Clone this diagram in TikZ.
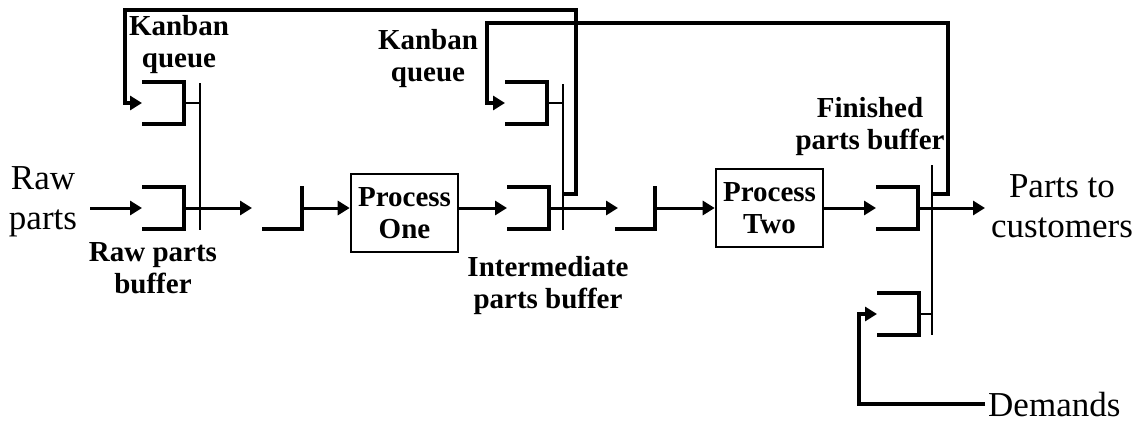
\documentclass[tikz,border=0pt]{standalone}
\usepackage{fontspec}
\setmainfont{Liberation Serif}
\usetikzlibrary{arrows.meta}

\tikzset{
  buffer/.pic={
    \draw[line width=4pt] (0,-21) -| (42,21) -- (0,21);
    \coordinate (-in) at (0,0);
    \coordinate (-out) at (42,0);
  },
  gate/.pic={
    \draw[line width=4pt] (-40,21) -| (0,-22);
    \coordinate (-out) at (0,0);
  },
}

\begin{document}
\begin{tikzpicture}[x=1pt, y=-1pt,
  flow/.style={line width=3pt, -{Triangle[length=12pt,width=14pt]}},
  loop/.style={line width=3.4pt, -{Triangle[length=12pt,width=14pt]}},
  post/.style={line width=2.4pt},
  lbl/.style={font=\bfseries\fontsize{29}{32}\selectfont, align=center, inner sep=0pt},
  txt/.style={font=\fontsize{35}{40}\selectfont, align=center, inner sep=0pt},
  proc/.style={draw, line width=2.6pt, minimum width=107pt, minimum height=78pt,
    inner sep=0pt, font=\bfseries\fontsize{29}{32}\selectfont, align=center}]
  \useasboundingbox (0,0) rectangle (1147,423);
  % Buffers and kanban queues.
  \pic (kq1) at (142,103) {buffer};
  \pic (rb)  at (142,208) {buffer};
  \pic (kq2) at (505,103) {buffer};
  \pic (ib)  at (507,208) {buffer};
  \pic (fb)  at (876,208) {buffer};
  \pic (dq)  at (877,314) {buffer};
  % Gates.
  \pic (g1) at (302,208) {gate};
  \pic (g2) at (655,208) {gate};
  \coordinate (g1in) at (252,208);
  \coordinate (g2in) at (618,208);
  % Processes.
  \node[proc] (p1) at (404.5,213) {Process\\One};
  \node[proc] (p2) at (769.5,208) {Process\\Two};
  % Kanban posts.
  \draw[post] (200,83) coordinate (k1) -- (200,230);
  \draw[post] (563,84) coordinate (k2) -- (563,230);
  \draw[post] (932,165) coordinate (k3) -- (932,335);
  \draw[post] (kq1-out) -- (kq1-out -| k1);
  \draw[post] (kq2-out) -- (kq2-out -| k2);
  \draw[post] (dq-out) -- (dq-out -| k3);
  % Texts.
  \node[txt] (raw) at (43,202) {Raw\\parts};
  \node[txt] (cust) at (1062,206) {Parts to\\customers};
  \node[txt, anchor=base west, inner xsep=3pt] (dem) at (985,416) {Demands};
  \node[lbl] (kql1) at (179,45) {Kanban\\queue};
  \node[lbl] (kql2) at (428,59) {Kanban\\queue};
  \node[lbl] (rbl) at (153,268) {Raw parts\\buffer};
  \node[lbl] (ibl) at (548,286) {Intermediate\\parts buffer};
  \node[lbl] (fbl) at (870,127) {Finished\\parts buffer};
  % Flow of parts.
  \coordinate (src) at (90,208);
  \coordinate (sink) at (985,208);
  \draw[flow] (src) -- (rb-in);
  \draw[flow] (rb-out) -- (g1in);
  \draw[flow] (g1-out) -- (p1.west |- g1-out);
  \draw[flow] (p1.east |- ib-in) -- (ib-in);
  \draw[flow] (ib-out) -- (g2in);
  \draw[flow] (g2-out) -- (p2.west);
  \draw[flow] (p2.east) -- (fb-in);
  \draw[flow] (fb-out) -- (sink);
  % Kanban loops.
  \draw[loop] (k2 |- 0,194) -| (576,10) -| (125,103) -- (kq1-in);
  \draw[loop] (k3 |- 0,194) -| (948,23) -| (487,103) -- (kq2-in);
  \draw[loop] (dem.west) -| (859,314) -- (dq-in);
\end{tikzpicture}
\end{document}
